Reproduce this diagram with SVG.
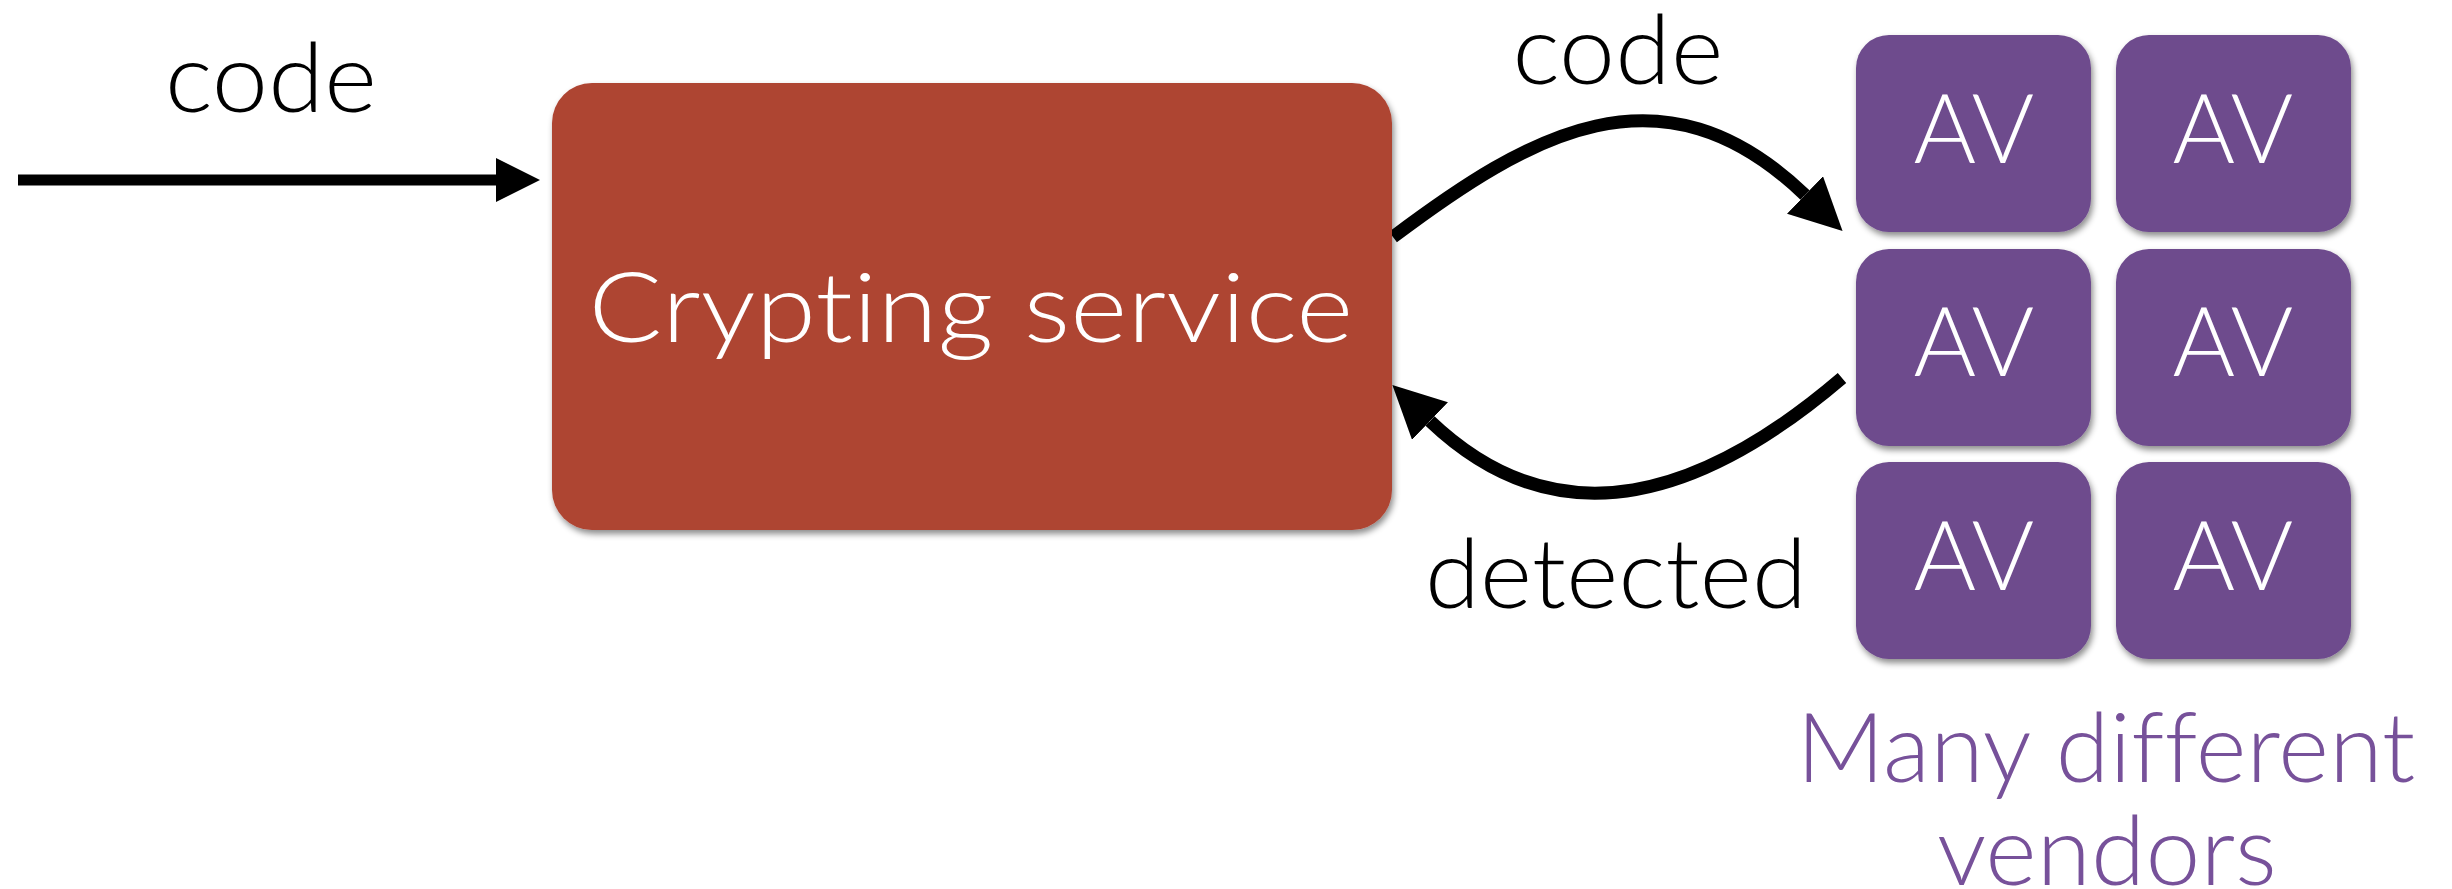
<svg xmlns="http://www.w3.org/2000/svg" width="2452" height="889" viewBox="0 0 2452 889">
  <style>
    .lbl { font-family: "Lato", "Liberation Sans", sans-serif; font-weight: 300; font-size: 96px; fill: #000; text-anchor: middle; font-variant-ligatures: none; font-feature-settings: "liga" 0, "clig" 0, "dlig" 0; letter-spacing: 0.2px; }
    .white { fill: #fff; }
    .purple { fill: #77519a; }
    .av-box { fill: #6e4b8d; filter: url(#shadow); }
    .svc-box { fill: #ae4433; filter: url(#shadow); }
    .wire { fill: none; stroke: #000; stroke-linecap: butt; marker-end: url(#head); }
  </style>
  <defs>
    <filter id="shadow" x="-10%" y="-10%" width="120%" height="125%">
      <feDropShadow dx="2" dy="4" stdDeviation="3" flood-color="#000" flood-opacity="0.45"/>
    </filter>
    <marker id="head" viewBox="0 -2 4 4" refX="0" refY="0" markerWidth="4" markerHeight="4" markerUnits="strokeWidth" orient="auto">
      <path d="M0,-2 L4,0 L0,2 Z" fill="#000"/>
    </marker>
  </defs>

  <!-- connectors -->
  <g id="connectors">
    <path class="wire" d="M18,180 L496,180" stroke-width="11"/>
    <path class="wire" d="M1393,237 C1529,135 1661,57 1805,195" stroke-width="13"/>
    <path class="wire" d="M1842,378 C1705,495 1560,545 1430,421" stroke-width="13"/>
  </g>

  <!-- edge labels -->
  <g id="labels">
    <text class="lbl" x="271" y="112" textLength="212" lengthAdjust="spacingAndGlyphs">code</text>
    <text class="lbl" x="1618" y="84" textLength="211" lengthAdjust="spacingAndGlyphs">code</text>
    <text class="lbl" x="1616" y="608" textLength="382" lengthAdjust="spacingAndGlyphs">detected</text>
  </g>

  <!-- crypting service node -->
  <g id="crypting-service">
    <rect class="svc-box" x="552" y="83" width="840" height="447" rx="40" ry="40"/>
    <text class="lbl white" x="971" y="342" font-size="108" textLength="765" lengthAdjust="spacingAndGlyphs">Crypting service</text>
  </g>

  <!-- antivirus vendor nodes -->
  <g id="av-1">
    <rect class="av-box" x="1856" y="35" width="235" height="197" rx="33" ry="33"/>
    <text class="lbl white" x="1974" y="163" textLength="121" lengthAdjust="spacingAndGlyphs">AV</text>
  </g>
  <g id="av-2">
    <rect class="av-box" x="2116" y="35" width="235" height="197" rx="33" ry="33"/>
    <text class="lbl white" x="2233" y="163" textLength="121" lengthAdjust="spacingAndGlyphs">AV</text>
  </g>
  <g id="av-3">
    <rect class="av-box" x="1856" y="249" width="235" height="197" rx="33" ry="33"/>
    <text class="lbl white" x="1974" y="376" textLength="121" lengthAdjust="spacingAndGlyphs">AV</text>
  </g>
  <g id="av-4">
    <rect class="av-box" x="2116" y="249" width="235" height="197" rx="33" ry="33"/>
    <text class="lbl white" x="2233" y="376" textLength="121" lengthAdjust="spacingAndGlyphs">AV</text>
  </g>
  <g id="av-5">
    <rect class="av-box" x="1856" y="462" width="235" height="197" rx="33" ry="33"/>
    <text class="lbl white" x="1974" y="590" textLength="121" lengthAdjust="spacingAndGlyphs">AV</text>
  </g>
  <g id="av-6">
    <rect class="av-box" x="2116" y="462" width="235" height="197" rx="33" ry="33"/>
    <text class="lbl white" x="2233" y="590" textLength="121" lengthAdjust="spacingAndGlyphs">AV</text>
  </g>

  <!-- group caption -->
  <g id="vendors-caption">
    <text class="lbl purple" x="2106" y="782" textLength="619" lengthAdjust="spacingAndGlyphs">Many different</text>
    <text class="lbl purple" x="2107" y="885" textLength="340" lengthAdjust="spacingAndGlyphs">vendors</text>
  </g>
</svg>
